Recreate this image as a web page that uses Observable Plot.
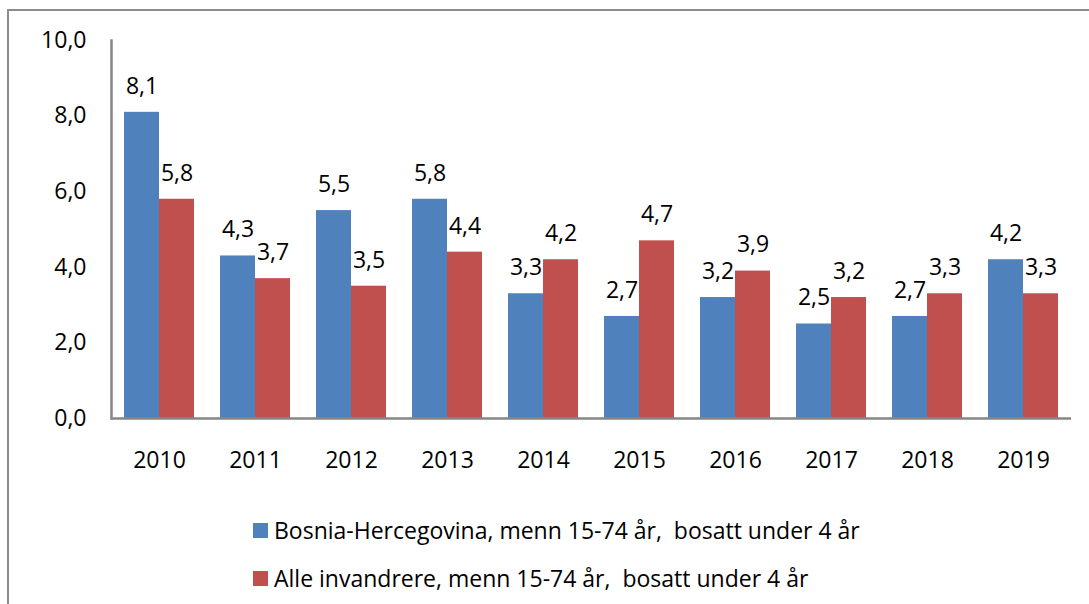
<!DOCTYPE html>
<html>
<head>
<meta charset="utf-8">
<script src="https://cdn.jsdelivr.net/npm/d3@7"></script>
<script src="https://cdn.jsdelivr.net/npm/@observablehq/plot@0.6"></script>
<style>
  html, body { margin: 0; padding: 0; background: #fff; }
  body { width: 1089px; height: 604px; overflow: hidden; position: relative; font-family: "Open Sans", sans-serif; }
  #frame { position: absolute; left: 7px; top: 9px; width: 1100px; height: 620px; border-top: 2.5px solid #8c8c8c; border-left: 2.5px solid #8c8c8c; box-sizing: border-box; }
  #chart { position: absolute; left: 0; top: 0; }
  #legend { position: absolute; left: 253px; top: 506px; font-size: 23px; color: #000; }
  .item { display: flex; align-items: center; height: 48px; white-space: pre; }
  .sw { width: 15px; height: 15px; margin-right: 6px; flex: none; }
</style>
</head>
<body>
<div id="frame"></div>
<div id="chart"></div>
<div id="legend"></div>
<script>
const years = ["2010","2011","2012","2013","2014","2015","2016","2017","2018","2019"];
const seriesNames = [
  "Bosnia-Hercegovina, menn 15-74 år,  bosatt under 4 år",
  "Alle invandrere, menn 15-74 år,  bosatt under 4 år"
];
const bosnia = [8.1, 4.3, 5.5, 5.8, 3.3, 2.7, 3.2, 2.5, 2.7, 4.2];
const alle   = [5.8, 3.7, 3.5, 4.4, 4.2, 4.7, 3.9, 3.2, 3.3, 3.3];
const colors = ["#4F81BD", "#C0504D"];
const yTicks = [0, 2, 4, 6, 8, 10];

const fmt = d => d.toFixed(1).replace(".", ",");
const rows = [];
years.forEach((y, i) => {
  rows.push({year: y, series: seriesNames[0], value: bosnia[i]});
  rows.push({year: y, series: seriesNames[1], value: alle[i]});
});

const chart = Plot.plot({
  width: 1089,
  height: 500,
  marginTop: 40,
  marginBottom: 82,
  marginLeft: 109,
  marginRight: 16,
  style: {fontFamily: "'Open Sans', sans-serif", fontSize: "23px", color: "#000", background: "transparent"},
  fx: {domain: years, padding: 0, label: null, tickSize: 0, tickPadding: 33, axis: "bottom"},
  x: {domain: seriesNames, axis: null, paddingInner: 0, paddingOuter: 0.36},
  y: {domain: [0, 10], ticks: yTicks, tickFormat: fmt, tickSize: 0, tickPadding: 25, label: null},
  color: {domain: seriesNames, range: colors},
  marks: [
    Plot.barY(rows, {fx: "year", x: "series", y: "value", fill: "series"}),
    Plot.text(rows, {fx: "year", x: "series", y: "value", text: d => fmt(d.value), dy: -26, fill: "#000"}),
    Plot.ruleY([0], {stroke: "#868686", strokeWidth: 2.5}),
    Plot.frame({anchor: "left", facet: "super", stroke: "#868686", strokeWidth: 2.5})
  ]
});
document.getElementById("chart").appendChild(chart);

const legend = document.getElementById("legend");
seriesNames.forEach((name, i) => {
  const item = document.createElement("div");
  item.className = "item";
  const sw = document.createElement("span");
  sw.className = "sw";
  sw.style.background = colors[i];
  const label = document.createElement("span");
  label.textContent = name;
  item.appendChild(sw);
  item.appendChild(label);
  legend.appendChild(item);
});
</script>
</body>
</html>
